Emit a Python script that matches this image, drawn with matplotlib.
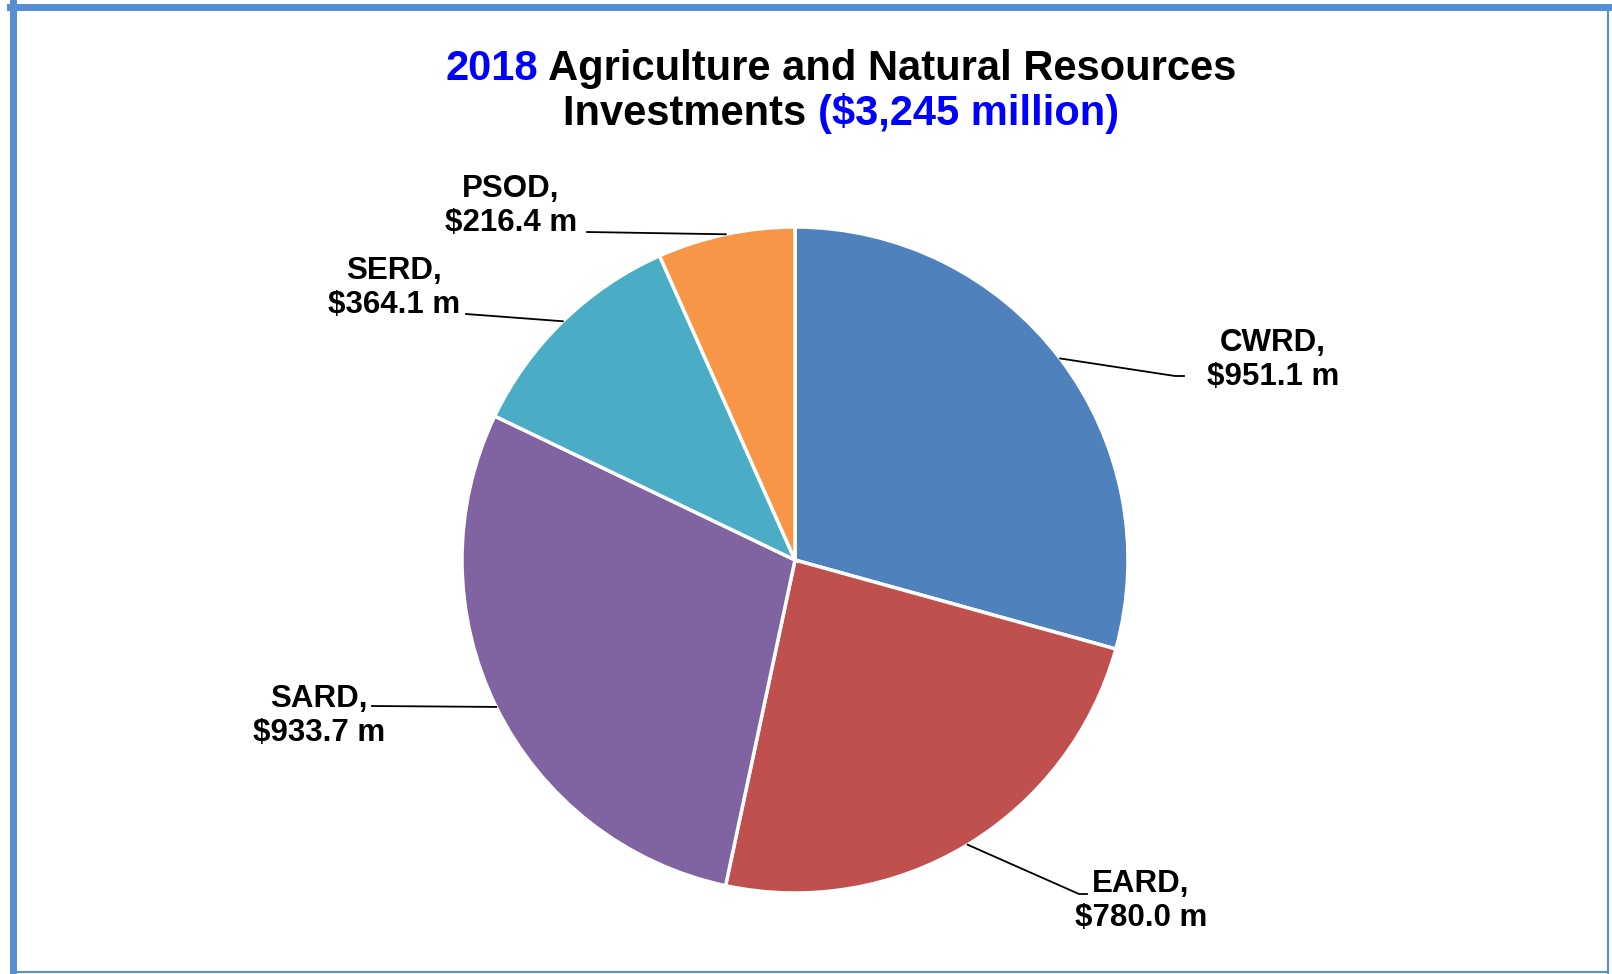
import numpy as np
import matplotlib.pyplot as plt
from matplotlib.lines import Line2D

plt.rcParams['font.family'] = ['Liberation Sans', 'DejaVu Sans']

# data
regions = ['CWRD', 'EARD', 'SARD', 'SERD', 'PSOD']
amounts = [951.1, 780.0, 933.7, 364.1, 216.4]
colors = ['#4F81BD', '#C0504D', '#8064A2', '#4BACC6', '#F79646']
total_label = '($3,245 million)'

W, H = 1612, 974
CX, CY, R = 795, 560, 333   # pie centre / radius in pixels

fig = plt.figure(figsize=(W / 100, H / 100), dpi=100)
ax = fig.add_axes([(CX - R) / W, (H - CY - R) / H, 2 * R / W, 2 * R / H])

wedges, _ = ax.pie(amounts, colors=colors, startangle=90, counterclock=False,
                   radius=1.0, wedgeprops=dict(edgecolor='white', linewidth=2.5))
ax.set_xlim(-1, 1)
ax.set_ylim(-1, 1)
ax.axis('off')


def to_data(px, py):
    return (px - CX) / R, (CY - py) / R


# label layout: text centre, leader points (pixels)
layout = {
    'CWRD': ((1273, 360), [(1175, 376), (1184, 376)]),
    'EARD': ((1141, 901), [(1079, 894), (1087, 894)]),
    'SARD': ((319, 716), [(372, 706)]),
    'SERD': ((394, 288), [(466, 314)]),
    'PSOD': ((511, 206), [(587, 232)]),
}

for w, name, val in zip(wedges, regions, amounts):
    mid = np.deg2rad((w.theta1 + w.theta2) / 2)
    ex, ey = np.cos(mid), np.sin(mid)
    (tx, ty), pts = layout[name]
    xs = [ex] + [to_data(*p)[0] for p in pts]
    ys = [ey] + [to_data(*p)[1] for p in pts]
    ax.add_line(Line2D(xs, ys, color='black', lw=1.3, clip_on=False))
    x, y = to_data(tx, ty)
    ax.text(x, y, f'{name},\n${val:.1f} m', ha='center', va='center',
            fontsize=22.5, fontweight='bold', linespacing=1.18)

# title with coloured parts
renderer = fig.canvas.get_renderer()


def title_line(parts, base_px, centre_px=841):
    texts = []
    for s, c in parts:
        t = fig.text(0, 1 - base_px / H, s, color=c, fontsize=30,
                     fontweight='bold', ha='left', va='baseline')
        texts.append(t)
    widths = [t.get_window_extent(renderer).width for t in texts]
    x = centre_px - sum(widths) / 2
    for t, wd in zip(texts, widths):
        t.set_x(x / W)
        x += wd


title_line([('2018', '#0000FF'), (' Agriculture and Natural Resources', 'black')], 80)
title_line([('Investments ', 'black'), (total_label, '#0000FF')], 125)

# frame
bc = '#558ED5'
fig.add_artist(Line2D([12.5 / W, 12.5 / W], [0, 1 - 3 / H], color=bc, lw=5, transform=fig.transFigure))
fig.add_artist(Line2D([10 / W, 1], [1 - 6.5 / H, 1 - 6.5 / H], color=bc, lw=5, transform=fig.transFigure))
fig.add_artist(Line2D([1608 / W, 1608 / W], [0, 1 - 6 / H], color=bc, lw=1.5, transform=fig.transFigure))
fig.add_artist(Line2D([12 / W, 1608 / W], [2 / H, 2 / H], color=bc, lw=1.5, transform=fig.transFigure))

fig.savefig('out.png', dpi=100, facecolor='white')
